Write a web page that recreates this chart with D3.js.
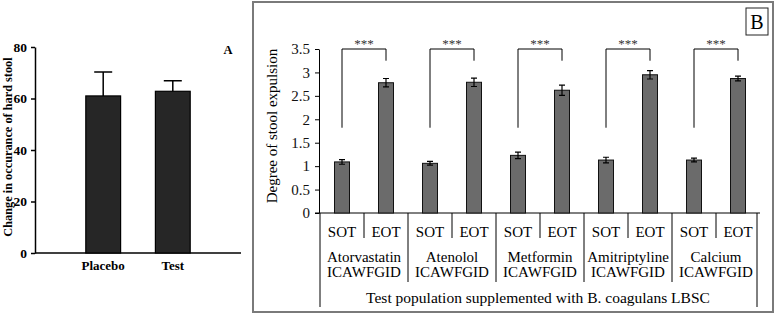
<!DOCTYPE html>
<html>
<head>
<meta charset="utf-8">
<script src="https://cdn.jsdelivr.net/npm/d3@7/dist/d3.min.js"></script>
<style>
  body { margin: 0; background: #fff; }
  svg { display: block; font-family: "Liberation Serif", "Times New Roman", serif; }
</style>
</head>
<body>
<div id="chart"></div>
<script>
// panel A data
var groupsA = ['Placebo', 'Test'];
var meanA = [61.0, 62.8];
var errA = [9.3, 4.1];
var ticksA = [0, 20, 40, 60, 80];

// panel B data
var drugs = ['Atorvastatin', 'Atenolol', 'Metformin', 'Amitriptyline', 'Calcium'];
var times = ['SOT', 'EOT'];
var sotMean = [1.09, 1.06, 1.23, 1.13, 1.13];
var sotErr = [0.05, 0.04, 0.07, 0.06, 0.04];
var eotMean = [2.78, 2.79, 2.62, 2.95, 2.87];
var eotErr = [0.09, 0.09, 0.11, 0.09, 0.05];
var ticksB = [0, 0.5, 1, 1.5, 2, 2.5, 3, 3.5];

var width = 776, height = 316;
var svg = d3.select('#chart').append('svg')
  .attr('width', width)
  .attr('height', height);

// ---------- Panel A ----------
var xA = d3.scaleBand().domain(groupsA).range([51, 225]).paddingInner(0.5).paddingOuter(0.5);
var yA = d3.scaleLinear().domain([0, 80]).range([253, 47]);

var gA = svg.append('g').attr('font-weight', 'bold');

gA.append('g')
  .attr('transform', 'translate(35,0)')
  .call(d3.axisLeft(yA).tickValues(ticksA).tickSize(4).tickSizeOuter(0).tickFormat(d3.format('d')))
  .call(function (g) {
    g.select('.domain').attr('stroke-width', 1.5);
    g.selectAll('text').attr('font-size', 13.5).attr('font-family', 'Liberation Serif').attr('dx', -1);
    g.selectAll('line').attr('stroke-width', 1.5);
  });

gA.append('line')
  .attr('x1', 35).attr('x2', 241)
  .attr('y1', yA(0)).attr('y2', yA(0))
  .attr('stroke', '#000').attr('stroke-width', 1.5);

var dataA = groupsA.map(function (g, i) { return { g: g, v: meanA[i], e: errA[i] }; });

gA.selectAll('.errA').data(dataA).enter().append('path')
  .attr('class', 'errA')
  .attr('d', function (d) {
    var cx = xA(d.g) + xA.bandwidth() / 2;
    return 'M' + cx + ',' + yA(d.v) + 'V' + yA(d.v + d.e) +
      'M' + (cx - 9) + ',' + yA(d.v + d.e) + 'H' + (cx + 9);
  })
  .attr('stroke', '#000').attr('stroke-width', 1.5).attr('fill', 'none');

gA.selectAll('.barA').data(dataA).enter().append('rect')
  .attr('class', 'barA')
  .attr('x', function (d) { return xA(d.g); })
  .attr('width', xA.bandwidth())
  .attr('y', function (d) { return yA(d.v); })
  .attr('height', function (d) { return yA(0) - yA(d.v); })
  .attr('fill', '#262626')
  .attr('stroke', '#000').attr('stroke-width', 1.2);

gA.selectAll('.labA').data(groupsA).enter().append('text')
  .attr('x', function (d) { return xA(d) + xA.bandwidth() / 2; })
  .attr('y', 270)
  .attr('text-anchor', 'middle')
  .attr('font-size', 13)
  .text(function (d) { return d; });

gA.append('text')
  .attr('transform', 'translate(12,147) rotate(-90)')
  .attr('text-anchor', 'middle')
  .attr('font-size', 12.3)
  .text('Change in occurance of hard stool');

gA.append('text')
  .attr('x', 228).attr('y', 54)
  .attr('text-anchor', 'middle')
  .attr('font-size', 12.5)
  .text('A');

// ---------- Panel B ----------
svg.append('rect')
  .attr('x', 253).attr('y', 2)
  .attr('width', 520).attr('height', 310)
  .attr('fill', 'none')
  .attr('stroke', '#7a7a7a').attr('stroke-width', 2);

svg.append('rect')
  .attr('x', 746).attr('y', 8)
  .attr('width', 22).attr('height', 27)
  .attr('fill', 'none')
  .attr('stroke', '#222').attr('stroke-width', 1);
svg.append('text')
  .attr('x', 757).attr('y', 29)
  .attr('text-anchor', 'middle')
  .attr('font-size', 20)
  .text('B');

var cats = [];
drugs.forEach(function (d) { times.forEach(function (t) { cats.push(d + '|' + t); }); });

var xB = d3.scaleBand().domain(cats).range([320, 760]);
var yB = d3.scaleLinear().domain([0, 3.5]).range([213, 49]);
var barW = 15;

var gB = svg.append('g');

gB.append('g')
  .attr('transform', 'translate(319,0)')
  .call(d3.axisLeft(yB).tickValues(ticksB).tickSize(4).tickSizeOuter(0).tickFormat(d3.format('')))
  .call(function (g) {
    g.selectAll('text').attr('font-size', 15).attr('font-family', 'Liberation Serif').attr('fill', '#111').attr('dx', -2);
  });

gB.append('line')
  .attr('x1', 315).attr('x2', 760)
  .attr('y1', yB(0)).attr('y2', yB(0))
  .attr('stroke', '#000');

var dataB = [];
drugs.forEach(function (d, i) {
  dataB.push({ key: d + '|SOT', v: sotMean[i], e: sotErr[i] });
  dataB.push({ key: d + '|EOT', v: eotMean[i], e: eotErr[i] });
});

gB.selectAll('.barB').data(dataB).enter().append('rect')
  .attr('class', 'barB')
  .attr('x', function (d) { return xB(d.key) + (xB.bandwidth() - barW) / 2; })
  .attr('width', barW)
  .attr('y', function (d) { return yB(d.v); })
  .attr('height', function (d) { return yB(0) - yB(d.v); })
  .attr('fill', '#6b6b6b')
  .attr('stroke', '#111').attr('stroke-width', 1);

gB.selectAll('.errB').data(dataB).enter().append('path')
  .attr('class', 'errB')
  .attr('d', function (d) {
    var cx = xB(d.key) + xB.bandwidth() / 2;
    var t = yB(d.v + d.e), b = yB(d.v - d.e);
    return 'M' + cx + ',' + t + 'V' + b +
      'M' + (cx - 3) + ',' + t + 'H' + (cx + 3) +
      'M' + (cx - 3) + ',' + b + 'H' + (cx + 3);
  })
  .attr('stroke', '#000').attr('stroke-width', 1.2).attr('fill', 'none');

// significance brackets
var bracketTop = 3.5, bracketLeft = 1.82, bracketRight = 3.25;
drugs.forEach(function (d) {
  var x1 = xB(d + '|SOT') + xB.bandwidth() / 2;
  var x2 = xB(d + '|EOT') + xB.bandwidth() / 2;
  gB.append('path')
    .attr('d', 'M' + x1 + ',' + yB(bracketLeft) + 'V' + yB(bracketTop) + 'H' + x2 + 'V' + yB(bracketRight))
    .attr('fill', 'none').attr('stroke', '#000').attr('stroke-width', 1);
  gB.append('text')
    .attr('x', (x1 + x2) / 2).attr('y', yB(bracketTop) - 1)
    .attr('text-anchor', 'middle')
    .attr('font-size', 13)
    .attr('fill', '#333')
    .text('***');
});

// category table under the axis
gB.selectAll('.timeLab').data(cats).enter().append('text')
  .attr('x', function (d) { return xB(d) + xB.bandwidth() / 2; })
  .attr('y', 237)
  .attr('text-anchor', 'middle')
  .attr('font-size', 15)
  .text(function (d) { return d.split('|')[1]; });

drugs.forEach(function (d, i) {
  var xs = xB(d + '|SOT');
  var xm = xB(d + '|EOT');
  var xe = xm + xB.bandwidth();
  gB.append('line')
    .attr('x1', xm).attr('x2', xm).attr('y1', yB(0)).attr('y2', 238)
    .attr('stroke', '#000');
  if (i > 0) {
    gB.append('line')
      .attr('x1', xs).attr('x2', xs).attr('y1', yB(0)).attr('y2', 282)
      .attr('stroke', '#000');
  }
  var lab = gB.append('text')
    .attr('x', (xs + xe) / 2)
    .attr('text-anchor', 'middle')
    .attr('font-size', 15);
  lab.append('tspan').attr('x', (xs + xe) / 2).attr('y', 262).text(d);
  lab.append('tspan').attr('x', (xs + xe) / 2).attr('y', 277).text('ICAWFGID');
});

[xB.range()[0], xB.range()[1] - 3].forEach(function (x) {
  gB.append('line')
    .attr('x1', x).attr('x2', x).attr('y1', yB(0)).attr('y2', 307)
    .attr('stroke', '#000');
});

gB.append('text')
  .attr('x', 538).attr('y', 303)
  .attr('text-anchor', 'middle')
  .attr('font-size', 15.5)
  .text('Test population supplemented with B. coagulans LBSC');

gB.append('text')
  .attr('transform', 'translate(277,126) rotate(-90)')
  .attr('text-anchor', 'middle')
  .attr('font-size', 15)
  .text('Degree of stool expulsion');
</script>
</body>
</html>
